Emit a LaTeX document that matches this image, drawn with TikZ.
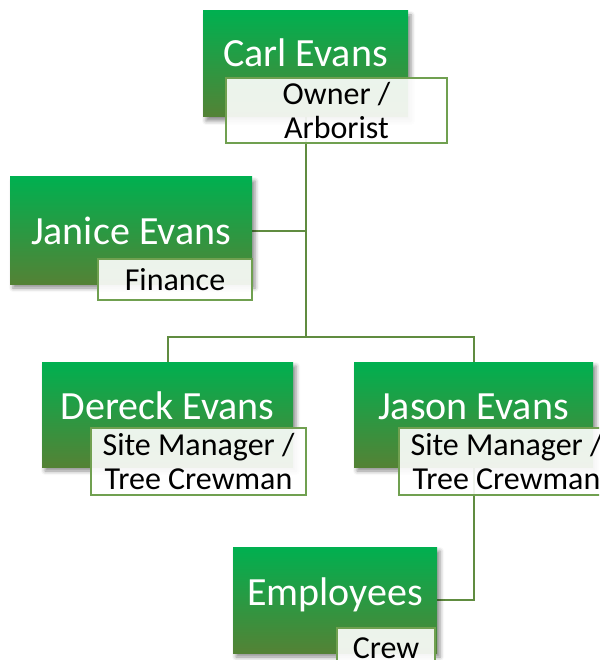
\documentclass[tikz,border=0pt]{standalone}
\usepackage{fontspec}
\setmainfont{Carlito}
\usetikzlibrary{shadows.blur}
\definecolor{gtop}{RGB}{0,176,80}
\definecolor{gbot}{RGB}{84,130,53}
\definecolor{lineg}{RGB}{96,140,64}
\definecolor{edgeg}{RGB}{112,160,80}
\pgfdeclarelayer{bg}
\pgfsetlayers{bg,main}
\tikzset{
 gbox/.style={rectangle, top color=gtop, bottom color=gbot, draw=none, anchor=north west, inner sep=0pt, outer sep=0pt,
   blur shadow={shadow xshift=3pt, shadow yshift=-4pt, shadow blur radius=4pt, shadow opacity=45}},
 lbox/.style={rectangle, draw=edgeg, line width=1.3pt, fill=white, fill opacity=0.9, text opacity=1, anchor=north west,
   inner sep=0pt, outer sep=0pt, align=center, font=\fontsize{32}{34}\selectfont, text=black},
 nametext/.style={text=white, font=\fontsize{40}{46}\selectfont, anchor=base, inner sep=0pt},
 conn/.style={draw=lineg, line width=2pt},
}
\begin{document}
\begin{tikzpicture}[x=1pt,y=-1pt]
\useasboundingbox (0,0) rectangle (599,660);
\clip (0,0) rectangle (599,660);
% Carl
\node[gbox, minimum width=205pt, minimum height=106pt] (carl) at (203,11) {};
\node[nametext] (carlname) at (305.5,67) {Carl Evans};
\node[lbox, minimum width=221pt, minimum height=65pt] (carllab) at (226,78) {Owner /\\Arborist};
% Janice
\node[gbox, minimum width=242pt, minimum height=107pt] (janice) at (10,177) {};
\node[nametext] (janicename) at (131,244) {Janice Evans};
\node[lbox, minimum width=154pt, minimum height=41pt] (janicelab) at (98,259) {Finance};
% Dereck
\node[gbox, minimum width=251pt, minimum height=105pt] (dereck) at (42,362) {};
\node[nametext] (dereckname) at (167.5,419) {Dereck Evans};
\node[lbox, minimum width=215pt, minimum height=67pt] (derecklab) at (91,428) {Site Manager /\\Tree Crewman};
% Jason
\node[gbox, minimum width=239pt, minimum height=105pt] (jason) at (354,362) {};
\node[nametext] (jasonname) at (473.5,419) {Jason Evans};
\node[lbox, minimum width=215pt, minimum height=67pt] (jasonlab) at (399,428) {Site Manager /\\Tree Crewman};
% Employees
\node[gbox, minimum width=204pt, minimum height=106pt] (emp) at (233,547) {};
\node[nametext] (empname) at (335,605) {Employees};
\node[lbox, minimum width=98pt, minimum height=41pt] (emplab) at (337,628) {Crew};
% connectors
\coordinate (bus) at (305.5,337);
\begin{pgfonlayer}{bg}
\draw[conn] (carl.south) -- (bus);
\draw[conn] (janice.east) -- (janice.east -| bus);
\draw[conn] (dereck.north) |- (bus) -| (jason.north);
\draw[conn] (jason.south) |- (emp.east);
\end{pgfonlayer}
\end{tikzpicture}
\end{document}
